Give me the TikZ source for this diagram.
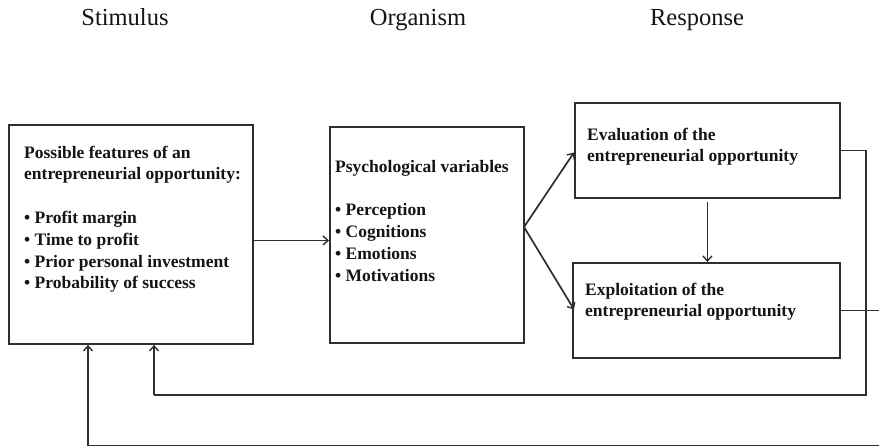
\documentclass[tikz,border=0pt]{standalone}
\usepackage{fontspec}
\setmainfont{Liberation Serif}
\usetikzlibrary{arrows.meta}
\definecolor{linegray}{HTML}{2E2E2E}
\definecolor{inkgray}{HTML}{151515}
% stacked lines with a fixed baseline step; the node's base is the first baseline
\newcommand{\stackedlines}[1]{\vtop{\baselineskip=21.8pt\lineskiplimit=-20pt #1}}
\newcommand{\textrow}[1]{\hbox{#1}}
\begin{document}
\begin{tikzpicture}[x=1pt,y=-1pt,
  panel/.style={draw=linegray,line width=1.9pt,inner sep=0pt,anchor=north west},
  heading/.style={font=\fontsize{24.5}{28}\selectfont,text=inkgray,anchor=base,inner sep=0pt},
  body/.style={font=\bfseries\fontsize{17.5}{21.8}\selectfont,text=inkgray,anchor=base west,inner sep=0pt},
  link/.style={draw=linegray,line width=1.7pt,-{Straight Barb[length=5pt,width=9pt,line width=1.4pt]}},
  wire/.style={draw=linegray,line width=1.8pt}]
\useasboundingbox (0,0) rectangle (879,447);
\clip (0,0) rectangle (879,447);
\fill[white] (0,0) rectangle (879,447);

% column headings
\node[heading] (hstim) at (125,25) {Stimulus};
\node[heading] (horg)  at (418,25) {Organism};
\node[heading] (hresp) at (697,25) {Response};

% boxes
\node[panel,minimum width=244pt,minimum height=219pt] (stim) at (8,124) {};
\node[panel,minimum width=194pt,minimum height=216pt] (org) at (329,126) {};
\node[panel,minimum width=265pt,minimum height=95pt] (eval) at (574,102) {};
\node[panel,minimum width=267pt,minimum height=95pt] (expl) at (572,262) {};

% box contents
\node[body] (stimtext) at (24,158) {\stackedlines{%
  \textrow{Possible features of an}\textrow{entrepreneurial opportunity:}\textrow{}%
  \textrow{\textbullet\ Profit margin}\textrow{\textbullet\ Time to profit}%
  \textrow{\textbullet\ Prior personal investment}\textrow{\textbullet\ Probability of success}}};
\node[body] (orgtext) at (335,172) {\stackedlines{%
  \textrow{Psychological variables}\textrow{}%
  \textrow{\textbullet\ Perception}\textrow{\textbullet\ Cognitions}%
  \textrow{\textbullet\ Emotions}\textrow{\textbullet\ Motivations}}};
\node[body] (evaltext) at (587,140) {\stackedlines{%
  \textrow{Evaluation of the}\textrow{entrepreneurial opportunity}}};
\node[body] (expltext) at (585,295) {\stackedlines{%
  \textrow{Exploitation of the}\textrow{entrepreneurial opportunity}}};

% corner points of the feedback loops
\coordinate (fork) at (524,227);
\coordinate (r1) at ([xshift=25pt]eval.east);
\coordinate (b1) at (r1 |- 0,395);
\coordinate (l1) at (154,395);
\coordinate (r2) at ([xshift=43pt]expl.east);
\coordinate (b2) at (r2 |- 0,445.5);
\coordinate (l2) at (88,445.5);

% forward connectors
\draw[link] ([yshift=-6pt]stim.east) -- ([yshift=-6pt]stim.east -| org.west);
\draw[link] (fork) -- ([yshift=-2pt]eval.west);
\draw[link] (fork) -- ([xshift=2pt,yshift=1pt]expl.west);
\draw[link,shorten <=3pt] (eval.south) -- (eval.south |- expl.north);

% feedback loops back to the stimulus box
\draw[wire] (eval.east) -- (r1) -- (b1) -- (l1);
\draw[link] (l1) -- (l1 |- stim.south);
\draw[wire] (expl.east) -- (r2) -- (b2) -- (l2);
\draw[link] (l2) -- (l2 |- stim.south);
\end{tikzpicture}
\end{document}
